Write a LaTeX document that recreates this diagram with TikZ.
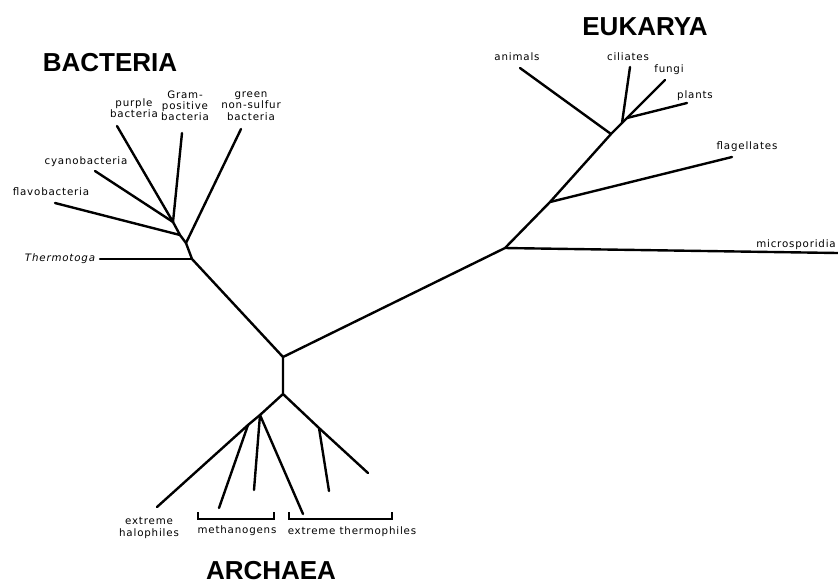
\documentclass[tikz,border=0pt]{standalone}
\usepackage{fontspec}
\setmainfont{Liberation Sans}
\newfontfamily\leaffont[LetterSpace=8]{DejaVu Sans}
\usetikzlibrary{positioning}

\begin{document}
\begin{tikzpicture}[x=0.75pt,y=-0.75pt,
    branch/.style={line width=1.8pt, line cap=round, line join=round},
    leaf/.style={font=\leaffont\fontsize{7.7}{8.4}\selectfont, align=center, inner sep=0pt},
    kingdom/.style={font=\bfseries\fontsize{19.5}{20}\selectfont, inner sep=0pt, anchor=base}]
  \useasboundingbox (0,0) rectangle (838,583);

  % junctions
  \foreach \n/\p in {R/{283,357}, S/{283,394}, T/{192,259}, G/{186,243}, F/{180,235}, A/{173,222},
                     E1/{505,248}, E2/{550,202}, E3/{611,134}, E4/{622,123}, E5/{627,118},
                     L/{260,415}, L2/{248,425}, Q/{319,428}}
    \coordinate (\n) at (\p);
  % leaf ends
  \foreach \n/\p in {thermo/{100,259}, green/{241,129}, flavo/{55,203}, cyano/{95,171}, purple/{117,126}, gram/{182,133},
                     micro/{838,253}, flag/{732,157}, animal/{520,68}, cil/{630,67}, fungi/{665,80}, plant/{687,103},
                     halo/{157,507}, meth1/{219,508}, meth2/{254,490}, meth3/{303,514}, hot1/{329,491}, hot2/{368,473}}
    \coordinate (\n) at (\p);

  % backbone
  \draw[branch] (A) -- (F) -- (G) -- (T) -- (R) -- (E1) -- (E2) -- (E3) -- (E4) -- (E5);
  \draw[branch] (R) -- (S) -- (L) -- (L2);
  \draw[branch] (S) -- (Q) -- (hot2);
  % leaves
  \foreach \j/\e in {T/thermo, G/green, F/flavo, A/cyano, A/purple, A/gram,
                     E1/micro, E2/flag, E3/animal, E4/cil, E5/fungi, E5/plant,
                     L2/halo, L2/meth1, L/meth2, L/meth3, Q/hot1}
    \draw[branch] (\j) -- (\e);

  % brackets
  \coordinate (mb1) at (198,512); \coordinate (mb2) at (274,512);
  \coordinate (tb1) at (289,512); \coordinate (tb2) at (392,512);
  \draw[line width=1pt] (mb1) -- ++(0,7) -| (mb2);
  \draw[line width=1pt] (tb1) -- ++(0,7) -| (tb2);

  % labels
  \node[leaf] (lThermo) at (60,259) {\itshape Thermotoga};
  \node[leaf] (lFlavo) at (51,192) {flavobacteria};
  \node[leaf] (lCyano) at (86,162) {cyanobacteria};
  \node[leaf] (lPurple) at (134,108) {purple\\bacteria};
  \node[leaf] (lGram) at (185,106) {Gram-\\positive\\bacteria};
  \node[leaf] (lGreen) at (251,106) {green\\non-sulfur\\bacteria};
  \node[leaf] (lAnimal) at (517,57) {animals};
  \node[leaf] (lCil) at (628,57) {ciliates};
  \node[leaf] (lFungi) at (669,70) {fungi};
  \node[leaf] (lPlant) at (695,96) {plants};
  \node[leaf] (lFlag) at (747,147) {flagellates};
  \node[leaf] (lMicro) at (796,245) {microsporidia};
  \node[leaf] (lHalo) at (149,528) {extreme\\halophiles};
  \node[leaf] (lMeth) at (237,531) {methanogens};
  \node[leaf] (lHot) at (352,532) {extreme thermophiles};

  \node[kingdom] (bac) at (110,71) {BACTERIA};
  \node[kingdom] (euk) at (645,35) {EUKARYA};
  \node[kingdom] (arc) at (271,579) {ARCHAEA};
\end{tikzpicture}
\end{document}
